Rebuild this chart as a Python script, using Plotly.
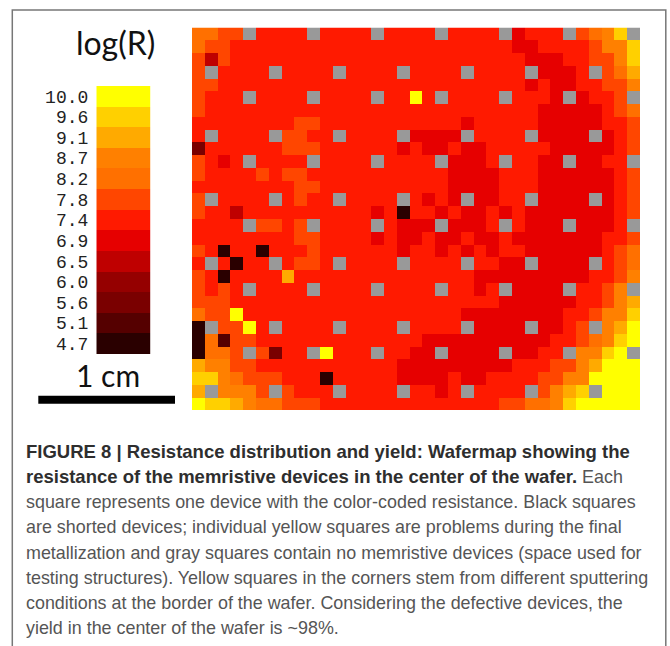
import plotly.graph_objects as go

W, H = 670, 646

tick_labels = ["4.7", "5.1", "5.6", "6.0", "6.5", "6.9", "7.4", "7.8", "8.2", "8.7", "9.1", "9.6", "10.0"]
level_colors = ["#2a0000", "#550000", "#7a0000", "#950000", "#bf0000", "#e60000", "#ff1a00",
                "#ff4600", "#ff7000", "#ff8000", "#ffaa00", "#ffd000", "#ffff00"]
gray_color = "#999999"

# each letter is one device: a=4.7 ... m=10.0, X = no memristive device
wafer_rows = [
    "iihhXggggXggggXggggXggggXfgggXhijlX",
    "ihhggggggggggggggggggggggffgggghjjl",
    "hehgggggggggggggggggggggggfffgghhjl",
    "hXggggXggggXggggXggggXggggXfffgXhik",
    "hhggggggggggggggggggggggggfgffgghhj",
    "hgggXggggXggggXggmgXggggXgggfXfgghX",
    "hggggggggggggggggggggggggggfffffghi",
    "gggggggghhgggggggggggfgggggfffffggh",
    "gXggggXhhggXggggXffffXggggXffffXfgh",
    "cgggggghhhggggggfgffgffgggggfffffgh",
    "hgfgXggggXggggXggggXfffgXggffXffggX",
    "hgggghghhgggggggggggffffgggffffffgh",
    "gggggggghhggggggggggffffgggffffffgh",
    "hXggggXghggXggggXgfgfXffggXffffXfgh",
    "hggeggggggggggfgaggfgffgfgfffffffgh",
    "ggggXhhghXggggXgfffXfffgXgfffXfffgX",
    "gggggggghhggggfgffgffgffgfffffffggh",
    "hgaggaggghggggggfggfgfgfggffffffghi",
    "gXgaggXghhgXggggXggggXggffXffffXghi",
    "hgaggggkggggggggggggggfffffffffgghj",
    "hghgXggggXggggXggggXggfgXffffXgghjX",
    "hhhgggggggggggggggggggggffffffgghjk",
    "ihhmgggggggggggggggggffffffffgghjjl",
    "aXhhmgXggggXggggXggggXffffXffghXjkm",
    "aibhhgggggggggggggffffffffffgghijlm",
    "aiihXhcggXmgggXggffXffffXffggXjjlmX",
    "kjjhhgggggggggggfffffffffggghhjkmmm",
    "lljihhhgggagggggffffgffgggghhjjmmmm",
    "kXjjjhXhgggXggggXggfgXggggXhjklXmmm",
    "mllkjiihhhgggggggggggggghhiijlmmmmm",
]

caption_bold = [
    "FIGURE 8 | Resistance distribution and yield: Wafermap showing the",
    "resistance of the memristive devices in the center of the wafer.",
]
caption_lines = [
    "",
    " Each",
    "square represents one device with the color-coded resistance. Black squares",
    "are shorted devices; individual yellow squares are problems during the final",
    "metallization and gray squares contain no memristive devices (space used for",
    "testing structures). Yellow squares in the corners stem from different sputtering",
    "conditions at the border of the wafer. Considering the defective devices, the",
    "yield in the center of the wafer is ~98%.",
]

letters = "abcdefghijklm"
n = len(letters)
z = [[n if ch == "X" else letters.index(ch) for ch in row] for row in wafer_rows]

colors = level_colors + [gray_color]
scale = []
for i, c in enumerate(colors):
    scale.append([i / len(colors), c])
    scale.append([(i + 1) / len(colors), c])

fig = go.Figure()
fig.add_trace(go.Heatmap(z=z, colorscale=scale, zmin=-0.5, zmax=n + 0.5, showscale=False,
                         xaxis="x", yaxis="y", hoverinfo="skip"))
fig.add_trace(go.Heatmap(z=[[i] for i in range(n)], y=tick_labels, colorscale=scale, zmin=-0.5, zmax=n + 0.5,
                         showscale=False, xaxis="x2", yaxis="y2", hoverinfo="skip"))


def dx(p):
    return p / W


def dy(p):
    return 1 - p / H


fig.update_layout(
    width=W, height=H, margin=dict(l=0, r=0, t=0, b=0),
    paper_bgcolor="white", plot_bgcolor="white", showlegend=False,
    xaxis=dict(domain=[dx(192), dx(640)], visible=False, range=[-0.5, 34.5]),
    yaxis=dict(domain=[dy(410), dy(27.5)], visible=False, range=[29.5, -0.5]),
    xaxis2=dict(domain=[dx(96.3), dx(150.7)], visible=False, anchor="y2"),
    yaxis2=dict(domain=[dy(354), dy(86)], anchor="x2", type="category", showline=False, showgrid=False,
                ticks="", ticklabelstandoff=7, dtick=1,
                tickfont=dict(family="Liberation Mono", size=18, color="#222222")),
)

shapes = [
    dict(type="rect", xref="paper", yref="paper", x0=dx(38.3), x1=dx(175), y0=dy(403.7), y1=dy(395.7),
         fillcolor="black", line_width=0),
    dict(type="path", xref="paper", yref="paper", line=dict(color="#777777", width=1.5),
         path=f"M {dx(12.3)} 0 L {dx(12.3)} {dy(10)} L {dx(665.8)} {dy(10)} L {dx(665.8)} 0"),
]
fig.update_layout(shapes=shapes)

ann = [
    dict(text="log(R)", x=dx(115), y=dy(43), font=dict(family="Lato", size=32, color="#111111")),
    dict(text="1 cm", x=dx(107.5), y=dy(375), font=dict(family="Lato", size=30, color="#111111")),
]
for i, line in enumerate(caption_lines):
    txt = line
    if i < 2:
        txt = f"<b><span style='color:#2e2e2e;font-size:18.5px'>{caption_bold[i]}</span></b>" + line
    ann.append(dict(text=txt, x=dx(24), y=dy(451.7 + i * 25.25), xanchor="left",
                    font=dict(family="Liberation Sans", size=17.9, color="#555555")))
for a in ann:
    a.update(xref="paper", yref="paper", showarrow=False, yanchor="middle", **({} if "xanchor" in a else {"xanchor": "center"}))
fig.update_layout(annotations=ann)

fig.write_html("out.html", config={"displayModeBar": False},
               post_script="document.body.style.margin='0';document.documentElement.style.overflow='hidden';")
